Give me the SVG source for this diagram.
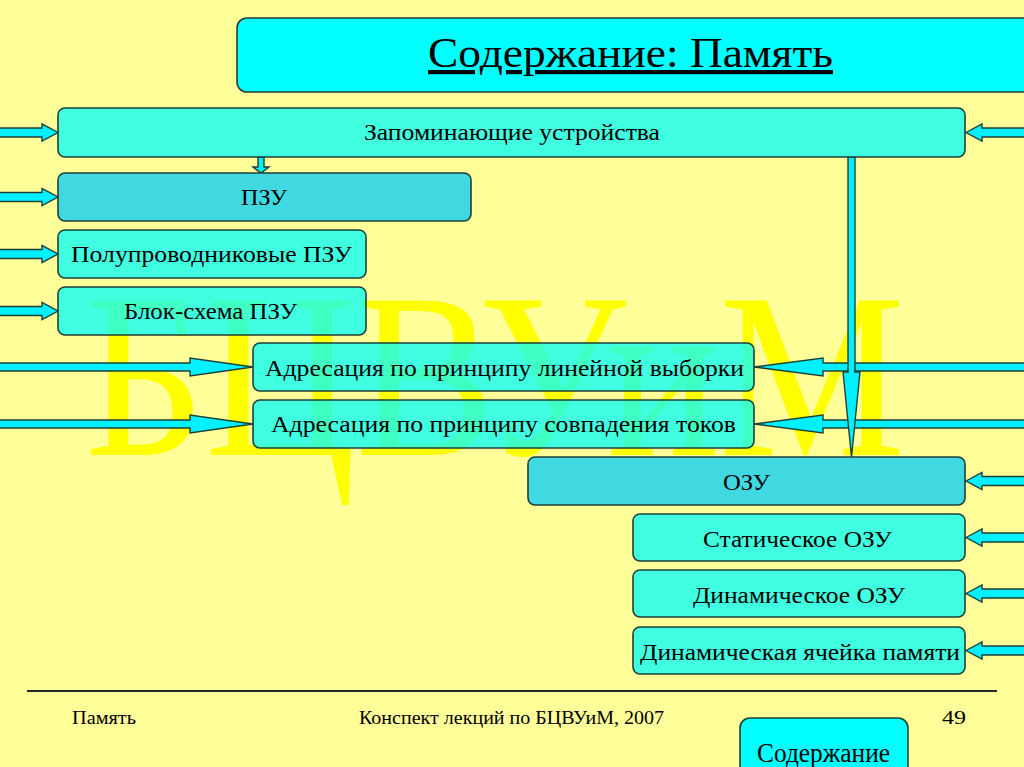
<svg xmlns="http://www.w3.org/2000/svg" width="1024" height="767" viewBox="0 0 1024 767">
<style>
.bx{fill:#10FFF2;fill-opacity:0.8;stroke:#1E3F38;stroke-width:1.6}
.bd{fill:#10CEF2;fill-opacity:0.8;stroke:#1E3F38;stroke-width:1.6}
.ar{fill:#00F0FF;stroke:#1E3F38;stroke-width:1.4;stroke-linejoin:miter}
.t{font-family:"Liberation Serif","Times New Roman",serif;font-size:23px;fill:#000;text-anchor:start}
.f{font-family:"Liberation Serif","Times New Roman",serif;font-size:19px;fill:#000}
</style>
<rect x="0" y="0" width="1024" height="767" fill="#FFFF99"/>
<text x="85" y="455" font-family="Liberation Serif, serif" font-size="235" fill="#FFFF00" textLength="820" lengthAdjust="spacingAndGlyphs">БЦВУиМ</text>

<g id="title">
<rect x="237" y="18" width="800" height="74" rx="10" fill="#00FFFF" stroke="#1E3F38" stroke-width="1.6"/>
<text x="428" y="67" font-family="Liberation Serif, serif" font-size="42" textLength="405" lengthAdjust="spacingAndGlyphs" text-decoration="underline">Содержание: Память</text>
</g>

<g id="connectors">
<polygon class="ar" points="-2,128 42,128 42,124 58,132.5 42,141 42,137 -2,137"/>
<polygon class="ar" points="-2,192.5 42,192.5 42,188.5 58,197 42,205.5 42,201.5 -2,201.5"/>
<polygon class="ar" points="-2,249.5 42,249.5 42,245.5 58,254 42,262.5 42,258.5 -2,258.5"/>
<polygon class="ar" points="-2,306.5 42,306.5 42,302.5 58,311 42,319.5 42,315.5 -2,315.5"/>
<polygon class="ar" points="-2,363 190,363 190,358 253,367 190,376 190,371 -2,371"/>
<polygon class="ar" points="-2,420 190,420 190,415 253,424 190,433 190,428 -2,428"/>
<polygon class="ar" points="754,367 823,358 823,363 1026,363 1026,371 823,371 823,376"/>
<polygon class="ar" points="754,424 823,415 823,420 1026,420 1026,428 823,428 823,433"/>
<polygon class="ar" points="966,132.5 982,124 982,128 1026,128 1026,137 982,137 982,141"/>
<polygon class="ar" points="966,481 982,472.5 982,476.5 1026,476.5 1026,485.5 982,485.5 982,489.5"/>
<polygon class="ar" points="966,537.5 982,529 982,533 1026,533 1026,542 982,542 982,546"/>
<polygon class="ar" points="966,593.5 982,585 982,589 1026,589 1026,598 982,598 982,602"/>
<polygon class="ar" points="966,650.5 982,642 982,646 1026,646 1026,655 982,655 982,659"/>
<polygon class="ar" points="848,157 855,157 855,372 860,372 851.5,457 843,372 848,372"/>
<polygon class="ar" points="258,157 264,157 264,167 269,167 261,173 253,167 258,167"/>
</g>

<g id="n1"><rect class="bx" x="58" y="108" width="907" height="49" rx="7"/>
<text class="t" x="364" y="140" textLength="296" lengthAdjust="spacingAndGlyphs">Запоминающие устройства</text></g>
<g id="n2"><rect class="bd" x="58" y="173" width="413" height="48" rx="7"/>
<text class="t" x="241" y="205" textLength="46" lengthAdjust="spacingAndGlyphs">ПЗУ</text></g>
<g id="n3"><rect class="bx" x="58" y="230" width="308" height="48" rx="7"/>
<text class="t" x="71" y="262" textLength="281" lengthAdjust="spacingAndGlyphs">Полупроводниковые ПЗУ</text></g>
<g id="n4"><rect class="bx" x="58" y="287" width="308" height="48" rx="7"/>
<text class="t" x="124" y="319" textLength="173" lengthAdjust="spacingAndGlyphs">Блок-схема ПЗУ</text></g>
<g id="n5"><rect class="bx" x="253" y="343" width="501" height="48" rx="7"/>
<text class="t" x="265" y="376" textLength="479" lengthAdjust="spacingAndGlyphs">Адресация по принципу линейной выборки</text></g>
<g id="n6"><rect class="bx" x="253" y="400" width="501" height="48" rx="7"/>
<text class="t" x="271" y="432" textLength="465" lengthAdjust="spacingAndGlyphs">Адресация по принципу совпадения токов</text></g>
<g id="n7"><rect class="bd" x="528" y="457" width="437" height="48" rx="7"/>
<text class="t" x="723" y="490" textLength="47" lengthAdjust="spacingAndGlyphs">ОЗУ</text></g>
<g id="n8"><rect class="bx" x="633" y="514" width="332" height="47" rx="7"/>
<text class="t" x="703" y="547" textLength="189" lengthAdjust="spacingAndGlyphs">Статическое ОЗУ</text></g>
<g id="n9"><rect class="bx" x="633" y="570" width="332" height="47" rx="7"/>
<text class="t" x="693" y="603" textLength="212" lengthAdjust="spacingAndGlyphs">Динамическое ОЗУ</text></g>
<g id="n10"><rect class="bx" x="633" y="627" width="332" height="47" rx="7"/>
<text class="t" x="640" y="660" textLength="320" lengthAdjust="spacingAndGlyphs">Динамическая ячейка памяти</text></g>

<g id="footer">
<line x1="27" y1="691" x2="997" y2="691" stroke="#1E2A20" stroke-width="2"/>
<text class="f" x="72" y="724" textLength="64" lengthAdjust="spacingAndGlyphs">Память</text>
<text class="f" x="359" y="724" textLength="305" lengthAdjust="spacingAndGlyphs">Конспект лекций по БЦВУиМ, 2007</text>
<text class="f" x="942" y="724" textLength="24" lengthAdjust="spacingAndGlyphs">49</text>
</g>
<g id="btn">
<rect x="740" y="718" width="168" height="70" rx="10" fill="#00FFFF" stroke="#1E3F38" stroke-width="1.6"/>
<text x="757" y="762" font-family="Liberation Serif, serif" font-size="27" textLength="133" lengthAdjust="spacingAndGlyphs">Содержание</text>
</g>
</svg>
